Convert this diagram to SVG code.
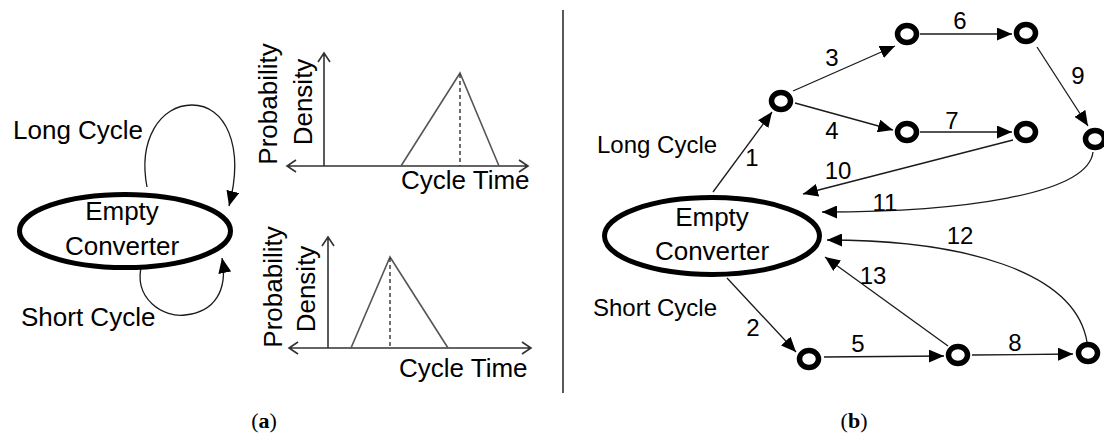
<svg xmlns="http://www.w3.org/2000/svg" width="1104" height="437" viewBox="0 0 1104 437">
<style>
text{font-family:"Liberation Sans",Arial,sans-serif;fill:#000}
.big{font-size:26px}
.mid{font-size:24px}
.lbl{font-size:24px;text-anchor:middle}
.c{text-anchor:middle}
.edge{fill:none;stroke:#1a1a1a;stroke-width:1.3;marker-end:url(#ah)}
.ring{fill:#fff;stroke:#000;stroke-width:5.5}
.state{fill:#fff;stroke:#000;stroke-width:5}
.axis{fill:none;stroke:#333;stroke-width:1.6}
.tri{fill:none;stroke:#555;stroke-width:1.6}
.dash{fill:none;stroke:#333;stroke-width:1.4;stroke-dasharray:4 3}
.cap{font-family:"Liberation Serif","Times New Roman",serif;font-size:22px;text-anchor:middle}
</style>
<defs>
<marker id="ah" markerUnits="userSpaceOnUse" markerWidth="15" markerHeight="13" refX="15" refY="6.5" orient="auto">
<path d="M0,0 L15,6.5 L0,13 z" fill="#000"/>
</marker>
</defs>

<!-- Panel (a) -->
<g id="a-connectors">
<path class="edge" d="M147,187 C138,140 160,105 192,105 C225,105 245,145 229,206"/>
<path class="edge" d="M142,263 C132,300 165,318 185,315 C215,312 228,290 222,258"/>
</g>
<g id="a-state">
<ellipse class="state" cx="125" cy="231" rx="105.5" ry="36.5"/>
<text class="big c" x="122" y="220">Empty</text>
<text class="big c" x="122" y="255">Converter</text>
</g>
<text class="big" x="13" y="139">Long Cycle</text>
<text class="big" x="21" y="326">Short Cycle</text>

<g id="chart-long">
<path class="axis" d="M324,166 V53 M318,62 L324,53 L330,62 M287,166 H528 M296,160 L287,166 L296,172 M519,160 L528,166 L519,172"/>
<path class="tri" d="M401,166 L460,73 L499,166"/>
<path class="dash" d="M460,74 V166"/>
<text class="big c" transform="translate(277,104) rotate(-90)">Probability</text>
<text class="big c" transform="translate(312,102) rotate(-90)">Density</text>
<text class="big" x="401" y="189">Cycle Time</text>
</g>
<g id="chart-short">
<path class="axis" d="M328,348 V237 M322,246 L328,237 L334,246 M289,348 H531 M298,342 L289,348 L298,354 M522,342 L531,348 L522,354"/>
<path class="tri" d="M351,348 L390,257 L448,348"/>
<path class="dash" d="M390,258 V348"/>
<text class="big c" transform="translate(282,287) rotate(-90)">Probability</text>
<text class="big c" transform="translate(315,289) rotate(-90)">Density</text>
<text class="big" x="399" y="377">Cycle Time</text>
</g>

<line x1="563" y1="10" x2="563" y2="393" stroke="#222" stroke-width="1.5"/>

<!-- Panel (b) -->
<g id="b-connectors">
<path class="edge" d="M713,192 L772,112"/>
<path class="edge" d="M793,91 L895,46"/>
<path class="edge" d="M795,103 L893,130"/>
<path class="edge" d="M920,34 L1012,34"/>
<path class="edge" d="M920,132 L1012,132"/>
<path class="edge" d="M1037,47 L1088,126"/>
<path class="edge" d="M1013,140 L803,194"/>
<path class="edge" d="M1093,152 C1088,195 960,212 822,212"/>
<path class="edge" d="M1087,342 C1075,270 960,240 827,240"/>
<path class="edge" d="M948,346 L825,257"/>
<path class="edge" d="M727,278 L796,352"/>
<path class="edge" d="M824,357 L944,356"/>
<path class="edge" d="M972,355 L1073,354"/>
</g>
<g id="b-labels">
<text class="lbl" x="752" y="166">1</text>
<text class="lbl" x="832" y="66">3</text>
<text class="lbl" x="832" y="139">4</text>
<text class="lbl" x="960" y="29">6</text>
<text class="lbl" x="952" y="129">7</text>
<text class="lbl" x="1078" y="84">9</text>
<text class="lbl" x="838" y="179">10</text>
<text class="lbl" x="885" y="211">11</text>
<text class="lbl" x="960" y="244">12</text>
<text class="lbl" x="873" y="284">13</text>
<text class="lbl" x="753" y="336">2</text>
<text class="lbl" x="858" y="352">5</text>
<text class="lbl" x="1015" y="351">8</text>
</g>
<g id="b-state">
<ellipse class="state" cx="712" cy="236" rx="107.5" ry="38.5"/>
<text class="big c" x="712" y="226">Empty</text>
<text class="big c" x="712" y="260">Converter</text>
</g>
<text class="mid" x="597" y="153">Long Cycle</text>
<text class="mid" x="593" y="316">Short Cycle</text>
<g id="nA"><ellipse class="ring" cx="781" cy="101" rx="9.5" ry="8.5"/></g>
<g id="nB"><ellipse class="ring" cx="907" cy="34" rx="9.5" ry="8.5"/></g>
<g id="nC"><ellipse class="ring" cx="1026" cy="33" rx="9.5" ry="8.5"/></g>
<g id="nD"><ellipse class="ring" cx="907" cy="132" rx="9.5" ry="8.5"/></g>
<g id="nE"><ellipse class="ring" cx="1026" cy="132" rx="9.5" ry="8.5"/></g>
<g id="nF"><ellipse class="ring" cx="1095" cy="139" rx="9.5" ry="8.5"/></g>
<g id="nG"><ellipse class="ring" cx="809" cy="359" rx="9.5" ry="8.5"/></g>
<g id="nH"><ellipse class="ring" cx="958" cy="355" rx="9.5" ry="8.5"/></g>
<g id="nI"><ellipse class="ring" cx="1088" cy="353" rx="9.5" ry="8.5"/></g>

<text class="cap" x="264" y="428">(<tspan font-weight="bold">a</tspan>)</text>
<text class="cap" x="854" y="428">(<tspan font-weight="bold">b</tspan>)</text>
</svg>
